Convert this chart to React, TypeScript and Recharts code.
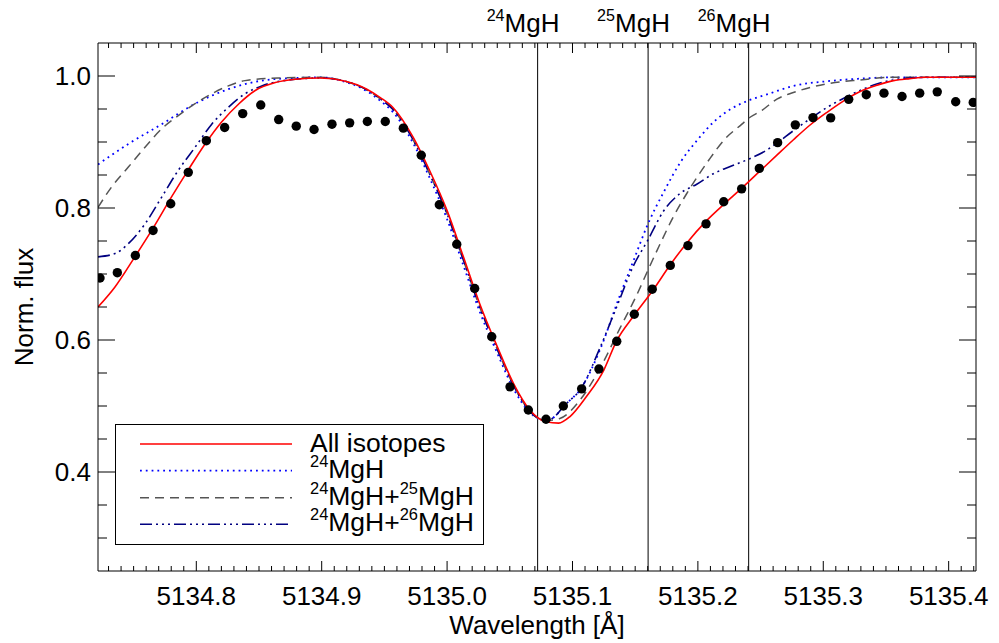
import React from 'react';
import { ComposedChart, Line, Scatter, XAxis, YAxis, ReferenceLine, Legend } from 'recharts';

const FONT = '"Liberation Sans", Arial, Helvetica, sans-serif';

// ---------- axes ----------
const X_DOMAIN: [number, number] = [5134.7216, 5135.4218];
const Y_DOMAIN: [number, number] = [0.25, 1.05];
const xMajorTicks = [5134.8, 5134.9, 5135.0, 5135.1, 5135.2, 5135.3, 5135.4];
const yMajorTicks = [0.4, 0.6, 0.8, 1.0];
const xAllTicks = Array.from({ length: 70 }, (_, i) => Math.round((5134.73 + i * 0.01) * 100) / 100);
const yAllTicks = Array.from({ length: 15 }, (_, i) => Math.round((0.3 + i * 0.05) * 100) / 100);

// ---------- isotope marker lines ----------
const isoNames = ['24MgH', '25MgH', '26MgH'];
const isoWavelengths = [5135.0722, 5135.1603, 5135.2405];

// ---------- observed spectrum (dots) ----------
const obsW = [
  5134.7232, 5134.737, 5134.7514, 5134.7655, 5134.7796, 5134.7936, 5134.808, 5134.8226, 5134.837, 5134.8514,
  5134.8657, 5134.8797, 5134.8939, 5134.9082, 5134.9223, 5134.9364, 5134.9507, 5134.9651, 5134.9794, 5134.9938,
  5135.0077, 5135.022, 5135.0356, 5135.0502, 5135.0648, 5135.0789, 5135.0927, 5135.1073, 5135.1211, 5135.1353,
  5135.1493, 5135.1636, 5135.178, 5135.1921, 5135.2065, 5135.2206, 5135.2349, 5135.249, 5135.2636, 5135.2777,
  5135.2918, 5135.3059, 5135.3203, 5135.3343, 5135.3484, 5135.3628, 5135.3769, 5135.3909, 5135.4056, 5135.4196,
];
const obsF = [
  0.694, 0.702, 0.728, 0.766, 0.8065, 0.854, 0.902, 0.922, 0.943, 0.956,
  0.934, 0.924, 0.919, 0.927, 0.929, 0.931, 0.931, 0.921, 0.88, 0.805,
  0.745, 0.678, 0.605, 0.529, 0.494, 0.48, 0.5, 0.526, 0.556, 0.598,
  0.639, 0.677, 0.713, 0.743, 0.776, 0.8095, 0.829, 0.86, 0.899, 0.926,
  0.937, 0.9365, 0.9646, 0.9717, 0.974, 0.969, 0.974, 0.976, 0.961, 0.96,
];

// ---------- model: all isotopes ----------
const allW = [
  5134.7216, 5134.735, 5134.751, 5134.766, 5134.78, 5134.794, 5134.807, 5134.82, 5134.834, 5134.847,
  5134.863, 5134.879, 5134.899, 5134.919, 5134.936, 5134.947, 5134.957, 5134.973, 5134.986, 5135.0,
  5135.013, 5135.026, 5135.04, 5135.053, 5135.066, 5135.079, 5135.089, 5135.098, 5135.111, 5135.125,
  5135.135, 5135.149, 5135.164, 5135.178, 5135.192, 5135.206, 5135.221, 5135.235, 5135.249, 5135.263,
  5135.276, 5135.289, 5135.303, 5135.316, 5135.329, 5135.343, 5135.356, 5135.369, 5135.382, 5135.4, 5135.4218,
];
const allF = [
  0.65, 0.68, 0.726, 0.771, 0.816, 0.859, 0.897, 0.93, 0.958, 0.978,
  0.99, 0.995, 0.997, 0.992, 0.98, 0.967, 0.952, 0.907, 0.857, 0.796,
  0.726, 0.655, 0.59, 0.534, 0.494, 0.476, 0.474, 0.484, 0.514, 0.5545,
  0.598, 0.637, 0.675, 0.714, 0.749, 0.779, 0.806, 0.83, 0.855, 0.88,
  0.903, 0.925, 0.945, 0.962, 0.976, 0.986, 0.993, 0.996, 0.998, 0.998, 0.998,
];

// ---------- model: 24MgH only ----------
const m24W = [
  5134.7216, 5134.7458, 5134.7724, 5134.799, 5134.8255, 5134.8522, 5134.8787, 5134.899, 5134.919, 5134.936,
  5134.947, 5134.957, 5134.973, 5134.986, 5135.0, 5135.013, 5135.026, 5135.04, 5135.053, 5135.066,
  5135.074, 5135.08, 5135.0874, 5135.0927, 5135.1073, 5135.1219, 5135.1379, 5135.149, 5135.16, 5135.173,
  5135.1863, 5135.1996, 5135.213, 5135.2262, 5135.2406, 5135.2565, 5135.2761, 5135.3027, 5135.3293, 5135.3558, 5135.4218,
];
const m24F = [
  0.866, 0.897, 0.927, 0.958, 0.98, 0.993, 0.997, 0.998, 0.991, 0.977,
  0.962, 0.945, 0.898, 0.846, 0.783, 0.713, 0.643, 0.58, 0.526, 0.49,
  0.48, 0.478, 0.487, 0.499, 0.528, 0.585, 0.668, 0.722, 0.775, 0.825,
  0.87, 0.903, 0.931, 0.95, 0.963, 0.973, 0.985, 0.992, 0.996, 0.998, 0.998,
];

// ---------- model: 24MgH + 25MgH ----------
const m2425W = [
  5134.7216, 5134.7325, 5134.7458, 5134.7591, 5134.7724, 5134.7856, 5134.799, 5134.8123, 5134.8255, 5134.8388,
  5134.8654, 5134.899, 5134.919, 5134.936, 5134.947, 5134.957, 5134.973, 5134.986, 5135.0, 5135.013,
  5135.026, 5135.04, 5135.053, 5135.066, 5135.074, 5135.08, 5135.0899, 5135.106, 5135.1219, 5135.1379,
  5135.1512, 5135.16, 5135.169, 5135.18, 5135.191, 5135.1988, 5135.2085, 5135.2218, 5135.2351, 5135.2405,
  5135.2511, 5135.263, 5135.2761, 5135.3027, 5135.3293, 5135.3558, 5135.4218,
];
const m2425F = [
  0.801, 0.832, 0.862, 0.892, 0.92, 0.94, 0.958, 0.973, 0.985, 0.993,
  0.997, 0.998, 0.992, 0.979, 0.965, 0.949, 0.903, 0.852, 0.791, 0.721,
  0.65, 0.586, 0.531, 0.492, 0.48, 0.478, 0.481, 0.509, 0.557, 0.618,
  0.668, 0.705, 0.742, 0.785, 0.8216, 0.845, 0.872, 0.905, 0.927, 0.936,
  0.948, 0.965, 0.975, 0.988, 0.994, 0.998, 0.998,
];

// ---------- model: 24MgH + 26MgH ----------
const m2426W = [
  5134.7216, 5134.7352, 5134.7458, 5134.7591, 5134.7724, 5134.7856, 5134.799, 5134.8123, 5134.8255, 5134.8388,
  5134.8522, 5134.8787, 5134.899, 5134.919, 5134.936, 5134.947, 5134.957, 5134.973, 5134.986, 5135.0,
  5135.013, 5135.026, 5135.04, 5135.053, 5135.066, 5135.074, 5135.08, 5135.0874, 5135.0927, 5135.1073,
  5135.1219, 5135.1352, 5135.1485, 5135.16, 5135.1725, 5135.1858, 5135.1991, 5135.2124, 5135.2258, 5135.2405,
  5135.2552, 5135.2628, 5135.2761, 5135.2894, 5135.3027, 5135.316, 5135.3293, 5135.3426, 5135.3558, 5135.3824, 5135.4218,
];
const m2426F = [
  0.726, 0.731, 0.746, 0.776, 0.8165, 0.857, 0.892, 0.927, 0.9525, 0.973,
  0.985, 0.995, 0.997, 0.992, 0.979, 0.965, 0.949, 0.903, 0.852, 0.791,
  0.721, 0.65, 0.586, 0.531, 0.492, 0.48, 0.478, 0.487, 0.499, 0.528,
  0.588, 0.65, 0.712, 0.751, 0.795, 0.822, 0.836, 0.852, 0.863, 0.874,
  0.888, 0.898, 0.917, 0.935, 0.952, 0.966, 0.978, 0.988, 0.994, 0.998, 0.998,
];

const zip = (w: number[], f: number[]) => w.map((x, i) => ({ w: x, f: f[i] }));

const seriesNames = ['All isotopes', '24MgH', '24MgH+25MgH', '24MgH+26MgH'];
const seriesColors = ['#ff0000', '#0000ff', '#555555', '#000080'];
const seriesDash = ['', '1.8 4', '9 6', '12 4 2 4 2 4 2 4'];
const seriesWidth = [1.6, 1.8, 1.5, 1.6];

// split "24MgH+25MgH" into superscript isotope numbers and normal text
function richText(s: string, size: number) {
  const parts = s.split(/(\d+)/).filter((p) => p.length > 0);
  const out: React.ReactNode[] = [];
  let raised = false;
  parts.forEach((p, i) => {
    const isNum = /^\d+$/.test(p);
    if (isNum) {
      out.push(
        <tspan key={i} fontSize={size * 0.62} dy={raised ? 0 : -size * 0.42}>
          {p}
        </tspan>
      );
      raised = true;
    } else {
      out.push(
        <tspan key={i} fontSize={size} dy={raised ? size * 0.42 : 0}>
          {p}
        </tspan>
      );
      raised = false;
    }
  });
  return out;
}

const isMajorX = (v: number) => Math.abs(v * 10 - Math.round(v * 10)) < 1e-6;
const isMajorY = (v: number) => Math.abs(v * 5 - Math.round(v * 5)) < 1e-6;

const BottomTick = (props: any) => {
  const { x, y, payload } = props;
  const major = isMajorX(payload.value);
  return (
    <g>
      <line x1={x} y1={y} x2={x} y2={y - (major ? 10 : 5)} stroke="#000" strokeWidth={1} />
      {major && (
        <text x={x} y={y + 34} textAnchor="middle" fontSize={26} fontFamily={FONT} fill="#000">
          {payload.value.toFixed(1)}
        </text>
      )}
    </g>
  );
};
const TopTick = (props: any) => {
  const { x, y, payload } = props;
  const major = isMajorX(payload.value);
  return <line x1={x} y1={y} x2={x} y2={y + (major ? 10 : 5)} stroke="#000" strokeWidth={1} />;
};
const LeftTick = (props: any) => {
  const { x, y, payload } = props;
  const major = isMajorY(payload.value);
  return (
    <g>
      <line x1={x} y1={y} x2={x + (major ? 17 : 9)} y2={y} stroke="#000" strokeWidth={1} />
      {major && (
        <text x={x - 7} y={y + 9.3} textAnchor="end" fontSize={26} fontFamily={FONT} fill="#000">
          {payload.value.toFixed(1)}
        </text>
      )}
    </g>
  );
};
const RightTick = (props: any) => {
  const { x, y, payload } = props;
  const major = isMajorY(payload.value);
  return <line x1={x} y1={y} x2={x - (major ? 17 : 9)} y2={y} stroke="#000" strokeWidth={1} />;
};

const XTitle = (props: any) => {
  const vb = props.viewBox || { x: 98, y: 571, width: 878 };
  return (
    <text x={vb.x + vb.width / 2} y={vb.y + 63} textAnchor="middle" fontSize={26} fontFamily={FONT} fill="#000">
      Wavelength [Å]
    </text>
  );
};
const YTitle = (props: any) => {
  const vb = props.viewBox || { x: 0, y: 43, height: 528 };
  const cx = vb.x + 33;
  const cy = vb.y + vb.height / 2;
  return (
    <text x={cx} y={cy} transform={`rotate(-90 ${cx} ${cy})`} textAnchor="middle" fontSize={26} fontFamily={FONT} fill="#000">
      Norm. flux
    </text>
  );
};

const makeIsoLabel = (name: string) => (props: any) => {
  const vb = props.viewBox;
  if (!vb) return null;
  return (
    <text x={vb.x - 51} y={vb.y - 11.5} fontFamily={FONT} fill="#000">
      {richText(name, 26)}
    </text>
  );
};

const LegendBox = () => (
  <svg width={369} height={121} style={{ display: 'block' }}>
    <rect x={0.5} y={0.5} width={368} height={120} fill="#fff" stroke="#000" strokeWidth={1} />
    {seriesNames.map((n, i) => {
      const ly = [20, 46.7, 73.7, 100.3][i];
      const ty = [27.7, 54, 81, 107][i];
      return (
        <g key={n}>
          <line
            x1={25}
            x2={177}
            y1={ly}
            y2={ly}
            stroke={seriesColors[i]}
            strokeWidth={seriesWidth[i]}
            strokeDasharray={seriesDash[i] || undefined}
          />
          <text x={195} y={ty} fontFamily={FONT} fill="#000">
            {richText(n, 26.5)}
          </text>
        </g>
      );
    })}
  </svg>
);

const Dot = (p: any) => <circle cx={p.cx} cy={p.cy} r={4.7} fill="#000" />;

export default function App() {
  const models = [zip(allW, allF), zip(m24W, m24F), zip(m2425W, m2425F), zip(m2426W, m2426F)];
  const drawOrder = [1, 2, 3, 0];
  return (
    <div style={{ position: 'absolute', left: 0, top: 0, width: 999, height: 643, background: '#fff' }}>
      <ComposedChart width={999} height={643} margin={{ top: 0, right: 0, bottom: 0, left: 0 }}>
        <XAxis
          xAxisId="b"
          orientation="bottom"
          type="number"
          dataKey="w"
          domain={X_DOMAIN}
          allowDataOverflow
          ticks={xAllTicks}
          interval={0}
          tickSize={0}
          tickMargin={0}
          tickLine={false}
          tick={<BottomTick />}
          height={72}
          axisLine={{ stroke: '#000', strokeWidth: 1 }}
          label={{ content: (p: any) => <XTitle {...p} /> }}
        />
        <XAxis
          xAxisId="t"
          orientation="top"
          type="number"
          dataKey="w"
          domain={X_DOMAIN}
          allowDataOverflow
          ticks={xAllTicks}
          interval={0}
          tickSize={0}
          tickMargin={0}
          tickLine={false}
          tick={<TopTick />}
          height={43}
          axisLine={{ stroke: '#000', strokeWidth: 1 }}
        />
        <YAxis
          yAxisId="l"
          orientation="left"
          type="number"
          dataKey="f"
          domain={Y_DOMAIN}
          allowDataOverflow
          ticks={yAllTicks}
          interval={0}
          tickSize={0}
          tickMargin={0}
          tickLine={false}
          tick={<LeftTick />}
          width={98}
          axisLine={{ stroke: '#000', strokeWidth: 1 }}
          label={{ content: (p: any) => <YTitle {...p} /> }}
        />
        <YAxis
          yAxisId="r"
          orientation="right"
          type="number"
          dataKey="f"
          domain={Y_DOMAIN}
          allowDataOverflow
          ticks={yAllTicks}
          interval={0}
          tickSize={0}
          tickMargin={0}
          tickLine={false}
          tick={<RightTick />}
          width={23}
          axisLine={{ stroke: '#000', strokeWidth: 1 }}
        />
        {isoWavelengths.map((w, i) => (
          <ReferenceLine
            key={isoNames[i]}
            x={w}
            xAxisId="b"
            yAxisId="l"
            stroke="#000"
            strokeWidth={1}
            label={{ content: makeIsoLabel(isoNames[i]) }}
          />
        ))}
        {drawOrder.map((i) => (
          <Line
            key={seriesNames[i]}
            xAxisId="b"
            yAxisId="l"
            data={models[i]}
            dataKey="f"
            type="monotone"
            stroke={seriesColors[i]}
            strokeWidth={seriesWidth[i]}
            strokeDasharray={seriesDash[i] || undefined}
            dot={false}
            activeDot={false}
            isAnimationActive={false}
            name={seriesNames[i]}
          />
        ))}
        <Scatter
          xAxisId="b"
          yAxisId="l"
          data={zip(obsW, obsF)}
          dataKey="f"
          shape={<Dot />}
          isAnimationActive={false}
        />
        <Legend
          layout="vertical"
          align="center"
          verticalAlign="middle"
          content={<LegendBox />}
          wrapperStyle={{ left: 115, top: 424, width: 369, height: 121 }}
        />
      </ComposedChart>
    </div>
  );
}
